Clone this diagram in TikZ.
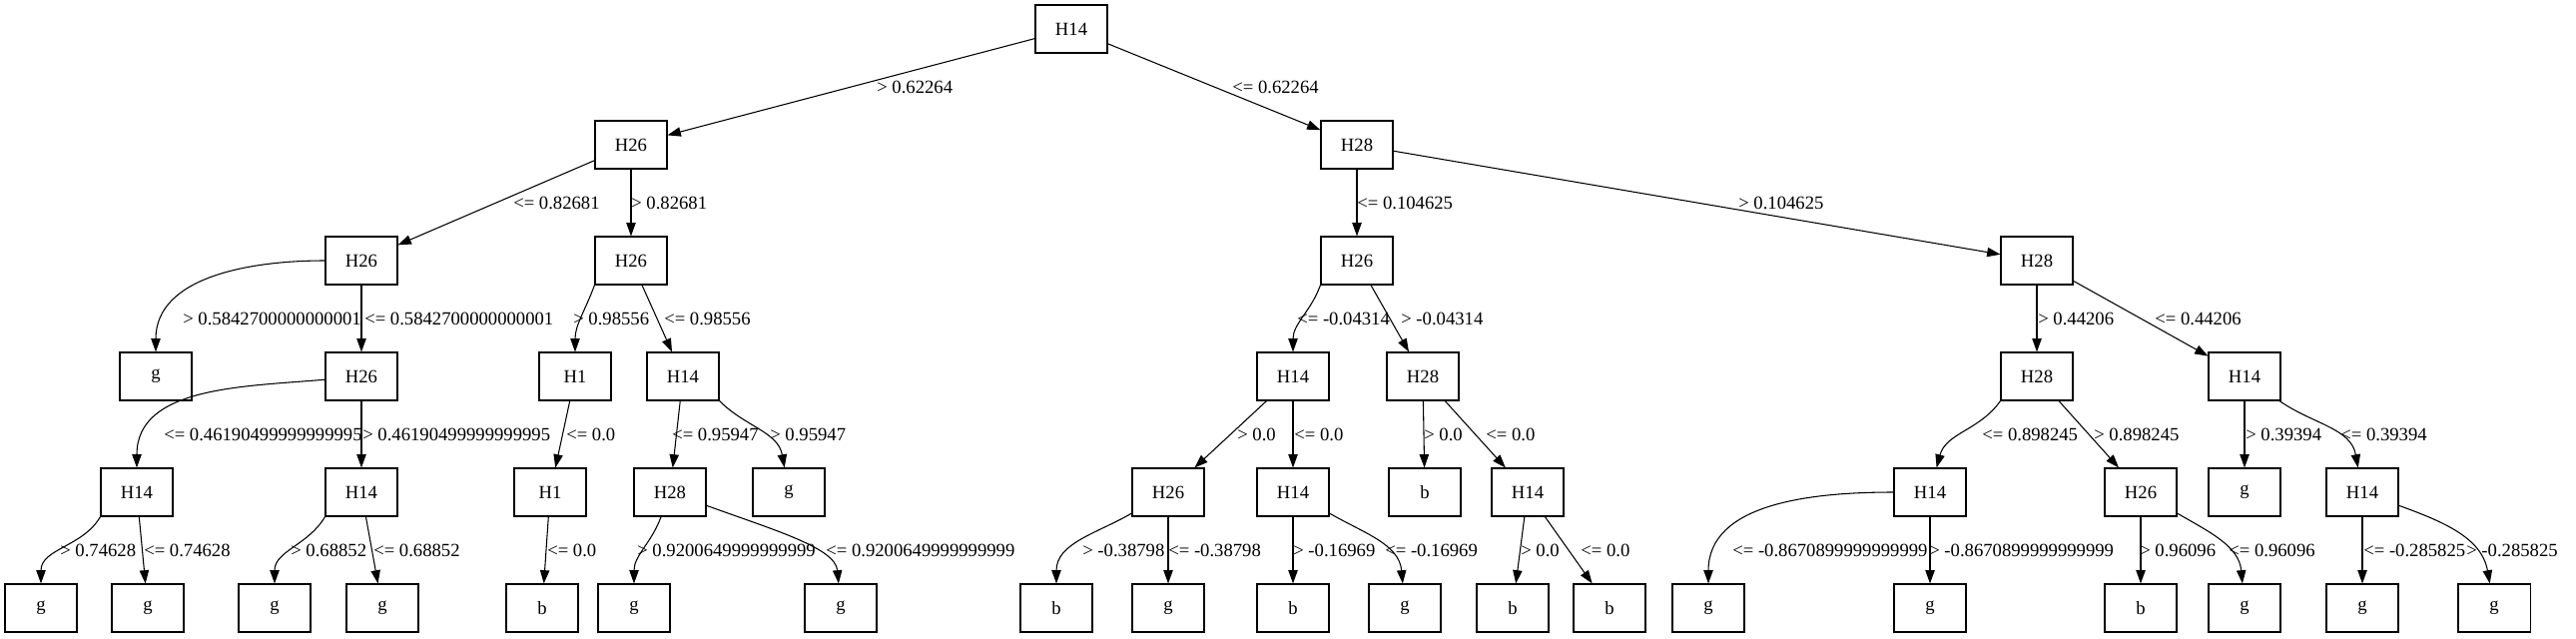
\documentclass[tikz,border=0pt]{standalone}
\usepackage{fontspec}
\setmainfont{Liberation Serif}
\usepackage{tikz}
\usetikzlibrary{arrows.meta}
\newcommand{\gv}{\fontsize{14}{16}\selectfont}

\begin{document}
\begin{tikzpicture}[x=0.75pt,y=0.75pt,
    box/.style={draw,line width=0.8pt,minimum width=54pt,minimum height=36pt,inner sep=0pt,font=\gv},
    lbl/.style={anchor=west,inner sep=0pt,font=\gv},
    arr/.style={line width=0.8pt,-{Triangle[length=10pt,width=7pt]}}]
  \useasboundingbox (0,0) rectangle (2580,-639);
  % tree nodes
  \foreach \n/\x/\y/\t in {t/1073/29/H14,
      tl/632/145/H26, tr/1359/145/H28,
      tll/362/261/H26, tlr/632/261/H26, trl/1359/261/H26, trr/2040/261/H28,
      tlll/156/377/g, tllr/362/377/H26, tlrl/576/377/H1, tlrr/684/377/H14,
      trll/1295/377/H14, trlr/1425/377/H28, trrl/2040/377/H28, trrr/2248/377/H14,
      tllrl/137/493/H14, tllrr/362/493/H14, tlrll/551/493/H1, tlrrl/671/493/H28,
      tlrrr/790/493/g, trlll/1170/493/H26, trllr/1295/493/H14, trlrl/1427/493/b,
      trlrr/1530/493/H14, trrll/1933/493/H14, trrlr/2144/493/H26, trrrl/2248/493/g,
      trrrr/2366/493/H14,
      tllrll/41/609/g, tllrlr/148/609/g, tllrrl/275/609/g, tllrrr/383/609/g,
      tlrlll/543/609/b, tlrrll/635/609/g, tlrrlr/842/609/g, trllll/1058/609/b,
      trlllr/1170/609/g, trllrl/1295/609/b, trllrr/1407/609/g, trlrrl/1515/609/b,
      trlrrr/1612/609/b, trrlll/1711/609/g, trrllr/1933/609/g, trrlrl/2144/609/b,
      trrlrr/2248/609/g, trrrrl/2366/609/g, trrrrr/2498/609/g}
    \node[box] (\n) at (\x,-\y) {\t};

  % straight edges
  \foreach \a/\b in {t/tl, t/tr, tl/tll, tl/tlr, tr/trl, tr/trr, tll/tllr,
      tlr/tlrr, trl/trlr, trr/trrl, trr/trrr, tllr/tllrr, tlrl/tlrll,
      tlrr/tlrrl, trll/trlll, trll/trllr, trlr/trlrl, trlr/trlrr, trrl/trrlr,
      trrr/trrrl, tllrl/tllrlr, tllrr/tllrrr, tlrll/tlrlll, trlll/trlllr,
      trllr/trllrl, trlrr/trlrrl, trlrr/trlrrr, trrll/trrllr, trrlr/trrlrl,
      trrrr/trrrrl}
    \draw[arr] (\a) -- (\b);

  % curved edges
  \draw[arr] (tll) to[out=180,in=90] (tlll);
  \draw[arr] (tlr.south west) to[out=-110,in=90] (tlrl);
  \draw[arr] (trl.south west) to[out=-110,in=90] (trll);
  \draw[arr] (tlrr.south east) to[out=-45,in=100] (tlrrr);
  \draw[arr] (trrr) to[out=-35,in=100] (trrrr);
  \draw[arr] (tllr) to[out=185,in=90] (tllrl);
  \draw[arr] (trrl.south west) to[out=-125,in=75] (trrll);
  \draw[arr] (tllrl.south west) to[out=-120,in=90] (tllrll);
  \draw[arr] (tllrr.south west) to[out=-120,in=90] (tllrrl);
  \draw[arr] (tlrrl) to[out=-110,in=90] (tlrrll);
  \draw[arr] (tlrrl) to[out=-20,in=95,out looseness=1.2,in looseness=0.6] (tlrrlr);
  \draw[arr] (trlll) to[out=-150,in=90] (trllll);
  \draw[arr] (trllr) to[out=-30,in=95] (trllrr);
  \draw[arr] (trrll) to[out=180,in=90] (trrlll);
  \draw[arr] (trrlr) to[out=-30,in=95] (trrlrr);
  \draw[arr] (trrrr) to[out=-20,in=100] (trrrrr);

  % edge labels
  \foreach \n/\x/\y/\t in {e1/878/87/{> 0.62264}, e2/1234/87/{<= 0.62264},
      e3/514/203/{<= 0.82681}, e4/632/203/{> 0.82681},
      e5/1359/203/{<= 0.104625}, e6/1741/203/{> 0.104625},
      e7/183/319/{> 0.5842700000000001}, e8/365/319/{<= 0.5842700000000001},
      e9/574/319/{> 0.98556}, e10/665/319/{<= 0.98556},
      e11/1299/319/{<= -0.04314}, e12/1403/319/{> -0.04314},
      e13/2041/319/{> 0.44206}, e14/2158/319/{<= 0.44206},
      e15/164/435/{<= 0.46190499999999995}, e16/363/435/{> 0.46190499999999995},
      e17/567/435/{<= 0.0}, e18/673/435/{<= 0.95947}, e19/771/435/{> 0.95947},
      e20/1239/435/{> 0.0}, e21/1296/435/{<= 0.0},
      e22/1426/435/{> 0.0}, e23/1488/435/{<= 0.0},
      e24/1985/435/{<= 0.898245}, e25/2097/435/{> 0.898245},
      e26/2249/435/{> 0.39394}, e27/2344/435/{<= 0.39394},
      e28/60/551/{> 0.74628}, e29/144/551/{<= 0.74628},
      e30/291/551/{> 0.68852}, e31/374/551/{<= 0.68852},
      e32/548/551/{<= 0.0},
      e33/638/551/{> 0.9200649999999999}, e34/827/551/{<= 0.9200649999999999},
      e35/1084/551/{> -0.38798}, e36/1170/551/{<= -0.38798},
      e37/1295/551/{> -0.16969}, e38/1387/551/{<= -0.16969},
      e39/1523/551/{> 0.0}, e40/1583/551/{<= 0.0},
      e41/1735/551/{<= -0.8670899999999999}, e42/1932/551/{> -0.8670899999999999},
      e43/2143/551/{> 0.96096}, e44/2232/551/{<= 0.96096},
      e45/2367/551/{<= -0.285825}, e46/2470/551/{> -0.285825}}
    \node[lbl] (\n) at (\x,-\y) {\t};
\end{tikzpicture}
\end{document}
